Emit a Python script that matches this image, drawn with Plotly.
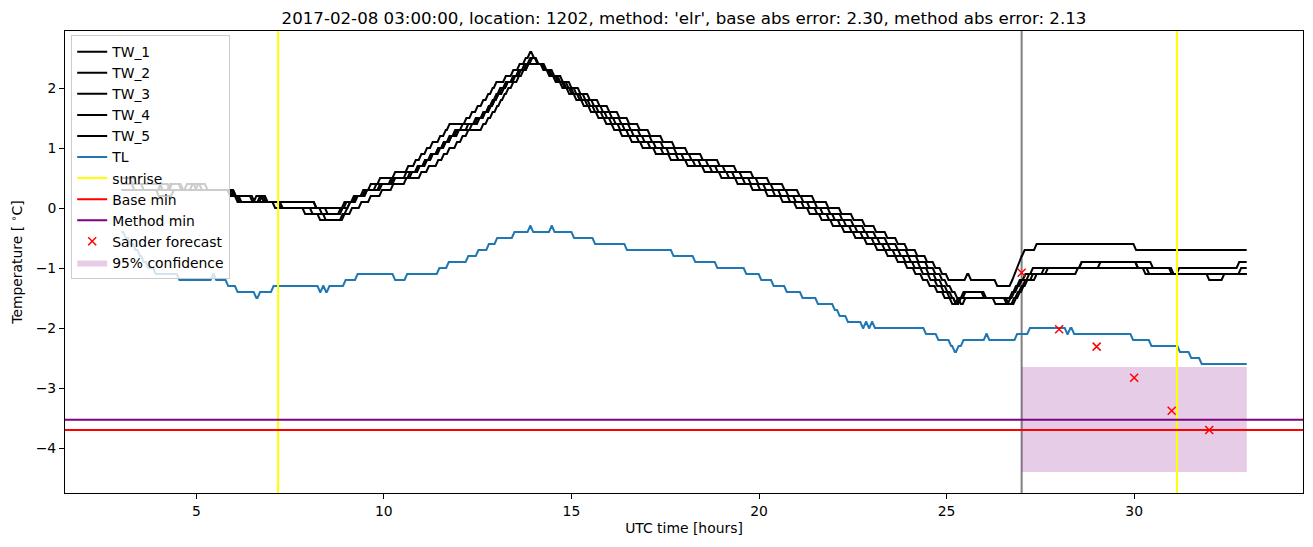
import plotly.graph_objects as go

# ---------------- data ----------------
# Each series is given as (time [h], level [degC]) steps: level holds from that time on.
tw1 = [(3.00,0.5),(3.40,0.4),(4.10,0.3),(4.30,0.4),(4.60,0.3),(6.05,0.2),(6.55,0.1),(8.20,0.0),
       (8.95,0.1),(9.20,0.2),(9.55,0.3),(9.90,0.4),(10.30,0.5),(10.75,0.6),(10.95,0.7),(11.15,0.8),
       (11.30,0.9),(11.45,1.0),(11.60,1.1),(11.75,1.2),(11.90,1.3),(12.10,1.4),(12.55,1.5),(12.70,1.6),
       (12.80,1.7),(12.90,1.8),(13.00,1.9),(13.10,2.0),(13.25,2.1),(13.45,2.2),(13.60,2.3),(13.75,2.4),
       (13.90,2.5),(14.12,2.4),(14.33,2.3),(14.54,2.2),(14.77,2.1),(15.00,2.0),(15.24,1.9),(15.49,1.8),
       (15.75,1.7),(16.01,1.6),(16.28,1.5),(16.54,1.4),(16.82,1.3),(17.10,1.2),(17.44,1.1),(17.75,1.0),
       (18.10,0.9),(18.50,0.8),(18.95,0.7),(19.40,0.6),(19.85,0.5),(20.28,0.4),(20.68,0.3),(21.08,0.2),
       (21.48,0.1),(21.85,0.0),(22.20,-0.1),(22.52,-0.2),(22.82,-0.3),(23.12,-0.4),(23.42,-0.5),
       (23.70,-0.6),(23.95,-0.7),(24.22,-0.8),(24.48,-0.9),(24.70,-1.0),(24.88,-1.1),(25.05,-1.2),
       (25.55,-1.1),(25.65,-1.2),(26.35,-1.3),(26.75,-1.2),(26.82,-1.1),(26.88,-1.0),(26.94,-0.9),
       (27.00,-0.8),(27.08,-0.7),(27.40,-0.6),(30.05,-0.7)]
tw2 = [(3.00,0.4),(3.60,0.3),(4.05,0.4),(4.30,0.3),(4.75,0.4),(5.00,0.3),(6.00,0.2),(6.15,0.1),
       (6.70,0.2),(6.85,0.1),(7.30,0.0),(8.35,-0.1),(8.45,-0.2),(8.95,-0.1),(9.02,0.0),(9.10,0.1),
       (9.25,0.2),(9.45,0.3),(9.65,0.4),(9.90,0.5),(10.30,0.6),(10.65,0.7),(10.85,0.8),(11.00,0.9),
       (11.15,1.0),(11.30,1.1),(11.50,1.2),(11.65,1.3),(11.75,1.4),(12.20,1.5),(12.35,1.6),(12.50,1.7),
       (12.65,1.8),(12.78,1.9),(12.90,2.0),(13.00,2.1),(13.25,2.2),(13.45,2.3),(13.62,2.4),(13.78,2.5),
       (13.90,2.6),(14.00,2.5),(14.10,2.4),(14.28,2.3),(14.46,2.2),(14.66,2.1),(14.86,2.0),(15.06,1.9),
       (15.28,1.8),(15.50,1.7),(15.72,1.6),(15.95,1.5),(16.18,1.4),(16.42,1.3),(16.66,1.2),(16.95,1.1),
       (17.25,1.0),(17.60,0.9),(18.00,0.8),(18.45,0.7),(18.90,0.6),(19.35,0.5),(19.78,0.4),(20.18,0.3),
       (20.58,0.2),(20.98,0.1),(21.35,0.0),(21.70,-0.1),(22.02,-0.2),(22.32,-0.3),(22.62,-0.4),
       (22.92,-0.5),(23.22,-0.6),(23.50,-0.7),(23.78,-0.8),(24.05,-0.9),(24.30,-1.0),(24.52,-1.1),
       (24.72,-1.2),(24.88,-1.3),(25.02,-1.4),(25.15,-1.5),(25.25,-1.6),(25.35,-1.5),(25.45,-1.4),
       (26.00,-1.5),(26.75,-1.4),(26.85,-1.3),(26.95,-1.2),(27.10,-1.1),(27.30,-1.0),(28.60,-0.9),
       (30.50,-1.0),(31.05,-1.1),(31.20,-1.0),(32.80,-0.9)]
tw3 = [(3.00,0.4),(3.35,0.3),(4.90,0.4),(5.15,0.3),(5.95,0.2),(6.10,0.1),(7.25,0.0),(7.90,-0.1),
       (8.30,-0.2),(8.90,-0.1),(9.15,0.0),(9.40,0.1),(9.65,0.2),(9.95,0.3),(10.25,0.4),(10.60,0.5),
       (11.00,0.6),(11.20,0.7),(11.45,0.8),(11.60,0.9),(11.75,1.0),(11.95,1.1),(12.10,1.2),(12.25,1.3),
       (12.65,1.4),(12.78,1.5),(12.90,1.6),(13.02,1.7),(13.12,1.8),(13.22,1.9),(13.32,2.0),(13.45,2.1),
       (13.60,2.2),(13.72,2.3),(13.85,2.4),(14.25,2.3),(14.41,2.2),(14.58,2.1),(14.76,2.0),(14.94,1.9),
       (15.13,1.8),(15.33,1.7),(15.52,1.6),(15.72,1.5),(15.93,1.4),(16.14,1.3),(16.35,1.2),(16.61,1.1),
       (16.90,1.0),(17.25,0.9),(17.65,0.8),(18.10,0.7),(18.55,0.6),(19.00,0.5),(19.43,0.4),(19.83,0.3),
       (20.23,0.2),(20.63,0.1),(21.00,0.0),(21.35,-0.1),(21.67,-0.2),(21.97,-0.3),(22.27,-0.4),
       (22.57,-0.5),(22.87,-0.6),(23.15,-0.7),(23.43,-0.8),(23.70,-0.9),(23.95,-1.0),(24.17,-1.1),
       (24.37,-1.2),(24.55,-1.3),(24.75,-1.4),(24.95,-1.5),(25.15,-1.6),(25.30,-1.5),(25.50,-1.4),
       (26.05,-1.5),(26.60,-1.6),(26.85,-1.5),(26.95,-1.4),(27.05,-1.3),(27.15,-1.2),(27.40,-1.1),
       (27.70,-1.0),(29.10,-0.9),(30.10,-1.0),(31.00,-1.1),(32.00,-1.2),(32.40,-1.1)]
tw4 = [(3.00,0.5),(3.30,0.4),(4.10,0.3),(4.35,0.4),(4.65,0.3),(5.05,0.4),(5.30,0.3),(6.05,0.2),
       (6.50,0.1),(6.75,0.2),(6.90,0.1),(8.20,0.0),(8.50,-0.1),(8.90,0.0),(9.10,0.1),(9.30,0.2),
       (9.55,0.3),(9.95,0.4),(10.25,0.5),(10.60,0.6),(10.95,0.7),(11.10,0.8),(11.30,0.9),(11.50,1.0),
       (11.65,1.1),(11.80,1.2),(12.00,1.3),(12.25,1.4),(12.45,1.5),(12.65,1.6),(12.80,1.7),(12.95,1.8),
       (13.05,1.9),(13.20,2.0),(13.30,2.1),(13.50,2.2),(13.60,2.3),(13.80,2.4),(13.95,2.5),(14.10,2.4),
       (14.27,2.3),(14.44,2.2),(14.63,2.1),(14.82,2.0),(15.01,1.9),(15.22,1.8),(15.43,1.7),(15.63,1.6),
       (15.85,1.5),(16.07,1.4),(16.30,1.3),(16.53,1.2),(16.80,1.1),(17.10,1.0),(17.45,0.9),(17.85,0.8),
       (18.30,0.7),(18.75,0.6),(19.20,0.5),(19.63,0.4),(20.03,0.3),(20.43,0.2),(20.83,0.1),(21.20,0.0),
       (21.55,-0.1),(21.87,-0.2),(22.17,-0.3),(22.47,-0.4),(22.77,-0.5),(23.07,-0.6),(23.35,-0.7),
       (23.63,-0.8),(23.90,-0.9),(24.15,-1.0),(24.37,-1.1),(24.57,-1.2),(24.75,-1.3),(24.92,-1.4),
       (25.08,-1.5),(25.25,-1.6),(25.38,-1.5),(26.30,-1.6),(26.70,-1.5),(26.80,-1.4),(26.90,-1.3),
       (27.00,-1.2),(27.20,-1.1),(28.50,-1.0),(30.40,-1.1),(32.85,-1.0)]
tw5 = [(3.00,0.3),(4.00,0.2),(4.40,0.3),(5.90,0.2),(6.20,0.1),(6.60,0.2),(6.80,0.1),(7.10,0.0),
       (8.10,-0.1),(8.85,0.0),(9.00,0.1),(9.25,0.2),(9.50,0.3),(9.80,0.4),(10.20,0.5),(10.70,0.6),
       (10.90,0.7),(11.10,0.8),(11.25,0.9),(11.45,1.0),(11.60,1.1),(11.80,1.2),(11.95,1.3),(12.35,1.4),
       (12.50,1.5),(12.70,1.6),(12.85,1.7),(12.95,1.8),(13.05,1.9),(13.15,2.0),(13.30,2.1),(13.45,2.2),
       (13.65,2.3),(13.85,2.4),(14.30,2.3),(14.49,2.2),(14.70,2.1),(14.92,2.0),(15.13,1.9),(15.37,1.8),
       (15.60,1.7),(15.84,1.6),(16.08,1.5),(16.33,1.4),(16.58,1.3),(16.84,1.2),(17.15,1.1),(17.45,1.0),
       (17.80,0.9),(18.20,0.8),(18.65,0.7),(19.10,0.6),(19.55,0.5),(19.98,0.4),(20.38,0.3),(20.78,0.2),
       (21.18,0.1),(21.55,0.0),(21.90,-0.1),(22.22,-0.2),(22.52,-0.3),(22.82,-0.4),(23.12,-0.5),
       (23.42,-0.6),(23.70,-0.7),(23.98,-0.8),(24.25,-0.9),(24.50,-1.0),(24.70,-1.1),(24.88,-1.2),
       (25.02,-1.3),(25.15,-1.4),(25.28,-1.5),(25.38,-1.6),(25.50,-1.5),(26.65,-1.6),(26.80,-1.5),
       (26.90,-1.4),(27.00,-1.3),(27.10,-1.2),(27.30,-1.1),(27.60,-1.0),(28.60,-0.9),(30.10,-1.0),
       (30.30,-1.1)]
tl = [(3.00,-0.4),(3.12,-0.5),(3.25,-0.6),(3.38,-0.7),(3.50,-0.8),(3.60,-0.9),(3.72,-1.0),(3.92,-1.1),
      (4.55,-1.2),(5.45,-1.1),(5.53,-1.2),(5.85,-1.3),(6.10,-1.4),(6.60,-1.5),(6.70,-1.4),(7.06,-1.3),
      (8.30,-1.4),(8.38,-1.3),(8.46,-1.4),(8.55,-1.3),(8.98,-1.2),(9.30,-1.1),(10.30,-1.2),(10.62,-1.1),
      (11.48,-1.0),(11.73,-0.9),(12.25,-0.8),(12.52,-0.7),(12.80,-0.6),(13.02,-0.5),(13.48,-0.4),
      (13.90,-0.3),(13.98,-0.4),(14.47,-0.3),(14.55,-0.4),(15.07,-0.5),(15.63,-0.6),(16.48,-0.7),
      (17.72,-0.8),(18.30,-0.9),(18.89,-1.0),(19.66,-1.1),(20.06,-1.2),(20.39,-1.3),(20.74,-1.4),
      (21.16,-1.5),(21.57,-1.6),(22.02,-1.7),(22.15,-1.8),(22.37,-1.9),(22.77,-2.0),(22.85,-1.9),
      (22.93,-2.0),(23.01,-1.9),(23.09,-2.0),(24.45,-2.1),(24.78,-2.2),(25.12,-2.3),(25.22,-2.4),
      (25.32,-2.3),(25.45,-2.2),(26.06,-2.1),(26.14,-2.2),(26.88,-2.1),(27.22,-2.0),(28.22,-2.1),
      (28.30,-2.0),(28.40,-2.1),(29.97,-2.2),(30.46,-2.3),(31.22,-2.4),(31.52,-2.5),(31.80,-2.6)]
series_end = 33.0

sunrise_times = [7.18, 31.14]
forecast_time = 27.0
base_min = -3.70
method_min = -3.53
forecast_x = [27, 28, 29, 30, 31, 32]
forecast_y = [-1.08, -2.02, -2.31, -2.83, -3.38, -3.70]
conf_start, conf_end = 27.0, 33.0
conf_lower, conf_upper = -4.40, -2.65
x_ticks = [5, 10, 15, 20, 25, 30]
y_ticks = [-4, -3, -2, -1, 0, 1, 2]

title = ("2017-02-08 03:00:00, location: 1202, method: 'elr', "
         "base abs error: 2.30, method abs error: 2.13")

# ---------------- drawing ----------------
TR = 0.07  # width of the transition between two logged levels


def step_xy(pairs, end):
    xs, ys = [], []
    for i, (t, v) in enumerate(pairs):
        xs.append(t)
        ys.append(v)
        if i + 1 == len(pairs):
            xs.append(end)
            ys.append(v)
        else:
            nxt = pairs[i + 1][0]
            if nxt - TR > t:
                xs.append(nxt - TR)
                ys.append(v)
    return xs, ys


FONT = "DejaVu Sans"
FS = 13.9      # 10 pt at 100 dpi
FS_T = 16.67   # 12 pt at 100 dpi
fig = go.Figure()

# confidence band (drawn first so markers sit above it)
fig.add_trace(go.Scatter(
    x=[conf_start, conf_end, conf_end, conf_start, conf_start],
    y=[conf_lower, conf_lower, conf_upper, conf_upper, conf_lower],
    fill="toself", fillcolor="rgba(128,0,128,0.2)", line=dict(width=0),
    mode="lines", name="95% confidence", legendrank=11, hoverinfo="skip"))

for i, tw in enumerate([tw1, tw2, tw3, tw4, tw5]):
    xs, ys = step_xy(tw, series_end)
    fig.add_trace(go.Scatter(x=xs, y=ys, mode="lines", name=f"TW_{i+1}",
                             line=dict(color="black", width=2), legendrank=i + 1))

xs, ys = step_xy(tl, series_end)
fig.add_trace(go.Scatter(x=xs, y=ys, mode="lines", name="TL",
                         line=dict(color="#1f77b4", width=2), legendrank=6))

# legend-only entries for the reference lines (drawn as shapes)
fig.add_trace(go.Scatter(x=[None], y=[None], mode="lines", name="sunrise",
                         line=dict(color="yellow", width=2), legendrank=7))
fig.add_trace(go.Scatter(x=[None], y=[None], mode="lines", name="Base min",
                         line=dict(color="red", width=2), legendrank=8))
fig.add_trace(go.Scatter(x=[None], y=[None], mode="lines", name="Method min",
                         line=dict(color="purple", width=2), legendrank=9))

fig.add_trace(go.Scatter(x=forecast_x, y=forecast_y, mode="markers", name="Sander forecast",
                         marker=dict(symbol="x-thin", size=8, color="red",
                                     line=dict(color="red", width=1.5)),
                         legendrank=10))

fig.add_vline(x=forecast_time, line=dict(color="gray", width=2), layer="below")
for t in sunrise_times:
    fig.add_vline(x=t, line=dict(color="yellow", width=2), layer="above")
fig.add_hline(y=base_min, line=dict(color="red", width=2), layer="above")
fig.add_hline(y=method_min, line=dict(color="purple", width=2), layer="above")

# axis limits with matplotlib-like 5% margins
all_y = [v for s in [tw1, tw2, tw3, tw4, tw5, tl] for _, v in s] + forecast_y + [conf_lower, conf_upper]
x_min, x_max = 3.0, series_end
y_min, y_max = min(all_y), max(all_y)
xpad = 0.05 * (x_max - x_min)
ypad = 0.05 * (y_max - y_min)

axis_common = dict(showline=True, linecolor="black", linewidth=1, mirror=True,
                   ticks="outside", ticklen=5, tickwidth=1, tickcolor="black",
                   showgrid=False, zeroline=False,
                   tickfont=dict(family=FONT, size=FS, color="black"))

fig.update_layout(
    width=1313, height=547,
    margin=dict(l=65, r=10, t=31, b=54),
    paper_bgcolor="white", plot_bgcolor="white",
    font=dict(family=FONT, size=FS, color="black"),
    title=dict(text=title, x=0.5, xref="paper", y=1 - 18 / 547, yref="container",
               yanchor="middle", xanchor="center",
               font=dict(family=FONT, size=FS_T, color="black")),
    xaxis=dict(range=[x_min - xpad, x_max + xpad], tickvals=x_ticks,
               title=dict(text="UTC time [hours]", standoff=5,
                          font=dict(family=FONT, size=FS)),
               **axis_common),
    yaxis=dict(range=[y_min - ypad, y_max + ypad], tickvals=y_ticks,
               title=dict(text="Temperature [ <sup>∘</sup>C]", standoff=9,
                          font=dict(family=FONT, size=FS)),
               **axis_common),
    legend=dict(x=0.005, y=0.991, xanchor="left", yanchor="top",
                bgcolor="rgba(255,255,255,0.8)", bordercolor="#cccccc", borderwidth=1,
                font=dict(family=FONT, size=FS, color="black"), tracegroupgap=0),
    showlegend=True,
)

fig.write_html("out.html")
